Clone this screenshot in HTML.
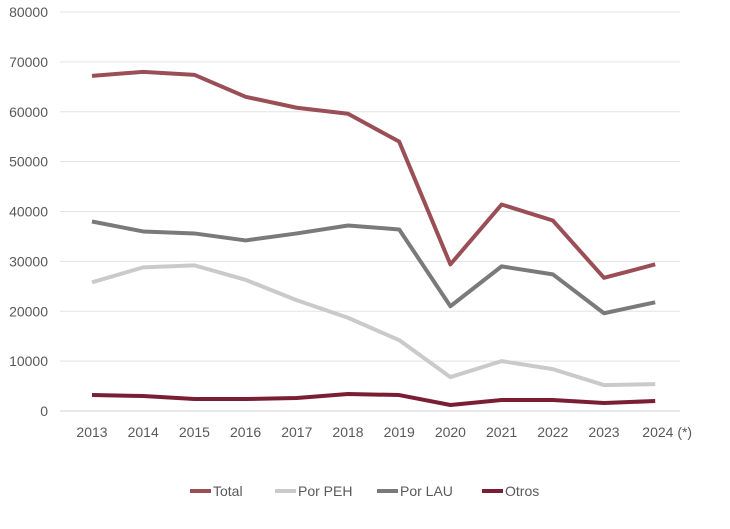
<!DOCTYPE html>
<html><head><meta charset="utf-8"><style>
body{margin:0;background:#fff;}
svg text{font-family:"Liberation Sans",sans-serif;fill:#595959;}
</style></head><body>
<svg id="chart" width="730" height="524" xmlns="http://www.w3.org/2000/svg"></svg>
<script>
const categories=["2013","2014","2015","2016","2017","2018","2019","2020","2021","2022","2023","2024 (*)"];
const totalValues=[67200,68000,67400,63000,60800,59600,54000,29400,41400,38200,26700,29400];
const pehValues=[25800,28800,29200,26300,22200,18700,14200,6800,10000,8400,5200,5400];
const lauValues=[38000,36000,35600,34200,35600,37200,36400,21000,29000,27400,19600,21800];
const otrosValues=[3200,3000,2400,2400,2600,3400,3200,1200,2200,2200,1600,2000];
const yTicks=[0,10000,20000,30000,40000,50000,60000,70000,80000];
const seriesNames=["Total","Por PEH","Por LAU","Otros"];
const colors=["#9a4f57","#cacaca","#7a7a7a","#7a1f33"];
const NS="http://www.w3.org/2000/svg";
const svg=document.getElementById('chart');
const y0=411,yTop=12,x0=92,dx=51.2;
function yScale(v){return y0-(v/80000)*(y0-yTop);}
function xScale(i){return x0+i*dx;}
function mk(t,a){const e=document.createElementNS(NS,t);for(const k in a)e.setAttribute(k,a[k]);svg.appendChild(e);return e;}
yTicks.forEach(v=>{
  const g=mk('line',{x1:60,x2:680,y1:yScale(v),y2:yScale(v),stroke:v===0?'#d0d0d0':'#e3e3e3','stroke-width':1});
  
  
  const t=mk('text',{x:48,y:yScale(v)+5,'text-anchor':'end','font-size':14});
  t.textContent=v;
  
  
});
categories.forEach((c,i)=>{
  const t=mk('text',{x:xScale(i)+(i===11?12:0),y:437,'text-anchor':'middle','font-size':14});
  t.textContent=c;
  
  
});
[totalValues,pehValues,lauValues,otrosValues].forEach((vals,s)=>{
  const p=mk('polyline',{points:vals.map((v,i)=>xScale(i)+','+yScale(v)).join(' '),fill:'none',stroke:colors[s],'stroke-width':4,'stroke-linejoin':'round'});
  
  
});
const lx=[190,275,377,482];
seriesNames.forEach((n,s)=>{
  const l=mk('line',{x1:lx[s],x2:lx[s]+21,y1:491,y2:491,stroke:colors[s],'stroke-width':4});
  
  
  const t=mk('text',{x:lx[s]+23,y:496,'font-size':14});
  t.textContent=n;
  
  
});
</script>
</body></html>
